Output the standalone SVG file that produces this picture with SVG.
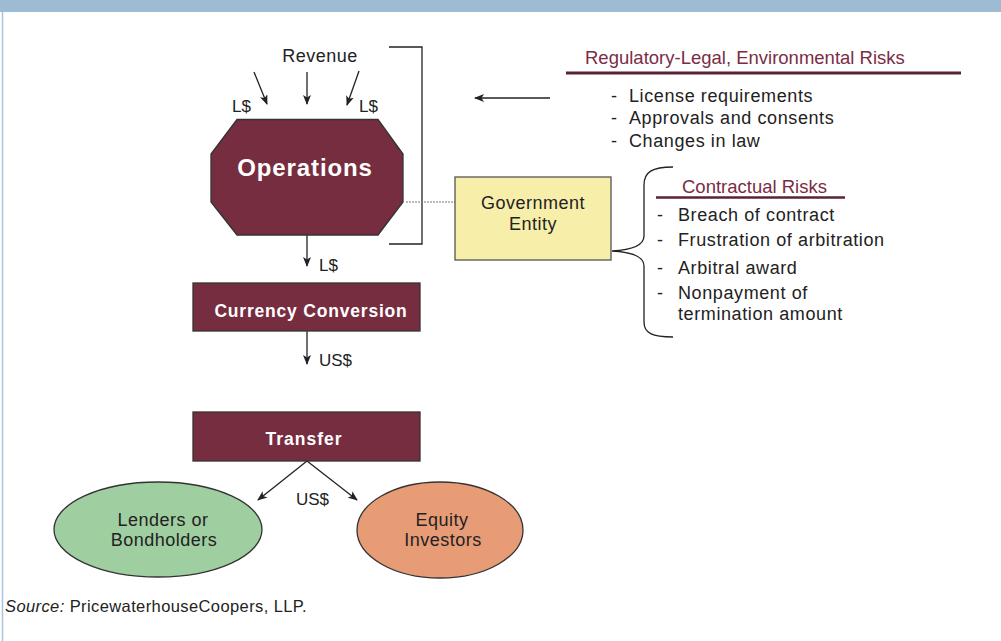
<svg xmlns="http://www.w3.org/2000/svg" width="1001" height="641" viewBox="0 0 1001 641">
<defs>
<marker id="ah" viewBox="0 0 10 8" refX="9" refY="4" markerWidth="10" markerHeight="8" markerUnits="userSpaceOnUse" orient="auto">
<path d="M0,0 L10,4 L0,8 L2.5,4 z" fill="#222"/>
</marker>
<style>
text{font-family:"Liberation Sans",Arial,sans-serif;fill:#222;}
.lbl{font-size:17px;}
.nm{font-size:18px;letter-spacing:0.5px;}
.item{font-size:18px;letter-spacing:0.6px;}
.head{font-size:18.5px;fill:#7a2d45;}
.wb{font-weight:bold;fill:#fff;}
.maroon{fill:#772d40;stroke:#333;stroke-width:1.3;}
.ln{stroke:#222;stroke-width:1.3;fill:none;}
.arr{stroke:#222;stroke-width:1.3;fill:none;marker-end:url(#ah);}
</style>
</defs>
<rect x="0" y="0" width="1001" height="12" fill="#9dbbd3"/>
<line x1="2.5" y1="12" x2="2.5" y2="641" stroke="#a9c5dd" stroke-width="1.5"/>

<g id="connectors">
<line class="arr" x1="254" y1="72" x2="267" y2="104"/>
<line class="arr" x1="307" y1="72" x2="307" y2="104"/>
<line class="arr" x1="359" y1="71" x2="347" y2="105"/>
<line class="arr" x1="550" y1="98" x2="475" y2="98"/>
<line class="arr" x1="307" y1="235" x2="307" y2="266"/>
<line class="arr" x1="307" y1="331" x2="307" y2="364"/>
<line class="arr" x1="307" y1="461" x2="258" y2="500"/>
<line class="arr" x1="307" y1="461" x2="357" y2="500"/>
<polyline class="ln" points="389,47 422,47 422,244 389,244" stroke="#444" stroke-width="1.5"/>
<line x1="406" y1="202" x2="455" y2="202" stroke="#777" stroke-width="1" stroke-dasharray="2,1"/>
<path class="ln" d="M673,167 C652,167 644,172 644,185 L644,236 C644,246 630,250 612,251 C630,252 644,256 644,266 L644,322 C644,333 652,337 673,337" stroke="#333"/>
</g>

<g id="revenue-labels">
<text class="nm" x="320" y="62" text-anchor="middle">Revenue</text>
<text class="lbl" x="232" y="112">L$</text>
<text class="lbl" x="359" y="112">L$</text>
<text class="lbl" x="319" y="271">L$</text>
<text class="lbl" x="319" y="366">US$</text>
<text class="lbl" x="296" y="505">US$</text>
</g>

<g id="operations">
<polygon class="maroon" points="237,119.5 378,119.5 403,154 403,202 378,235 237,235 211,202 211,154"/>
<text class="wb" x="305" y="176" text-anchor="middle" font-size="24" letter-spacing="0.9">Operations</text>
</g>

<g id="currency-conversion">
<rect class="maroon" x="193" y="283" width="227" height="48"/>
<text class="wb" x="311" y="317" text-anchor="middle" font-size="17.5" letter-spacing="0.8">Currency Conversion</text>
</g>

<g id="transfer">
<rect class="maroon" x="193" y="412" width="227" height="49"/>
<text class="wb" x="304" y="445" text-anchor="middle" font-size="17.5" letter-spacing="1">Transfer</text>
</g>

<g id="lenders">
<ellipse cx="158" cy="529.5" rx="104" ry="47.5" fill="#9fcea0" stroke="#333" stroke-width="1.3"/>
<text class="nm" x="163" y="526" text-anchor="middle">Lenders or</text>
<text class="nm" x="164" y="546" text-anchor="middle">Bondholders</text>
</g>

<g id="equity">
<ellipse cx="440" cy="530" rx="83" ry="48" fill="#e89c76" stroke="#333" stroke-width="1.3"/>
<text class="nm" x="442" y="526" text-anchor="middle">Equity</text>
<text class="nm" x="443" y="546" text-anchor="middle">Investors</text>
</g>

<g id="government-entity">
<rect x="455" y="177" width="156" height="83" fill="#f7eeaa" stroke="#555" stroke-width="1.3"/>
<text class="nm" x="533" y="209" text-anchor="middle">Government</text>
<text class="nm" x="533" y="230" text-anchor="middle">Entity</text>
</g>

<g id="regulatory-risks">
<text class="head" x="585" y="64">Regulatory-Legal, Environmental Risks</text>
<line x1="566" y1="73" x2="961" y2="73" stroke="#5a2333" stroke-width="3"/>
<text class="item" x="611" y="102">-</text><text class="item" x="629" y="102">License requirements</text>
<text class="item" x="611" y="124">-</text><text class="item" x="629" y="124">Approvals and consents</text>
<text class="item" x="611" y="147">-</text><text class="item" x="629" y="147">Changes in law</text>
</g>

<g id="contractual-risks">
<text class="head" x="682" y="193" font-size="17.5">Contractual Risks</text>
<line x1="656" y1="197.5" x2="845" y2="197.5" stroke="#5a2333" stroke-width="2.5"/>
<text class="item" x="657" y="221">-</text><text class="item" x="678" y="221">Breach of contract</text>
<text class="item" x="657" y="246">-</text><text class="item" x="678" y="246">Frustration of arbitration</text>
<text class="item" x="657" y="274">-</text><text class="item" x="678" y="274">Arbitral award</text>
<text class="item" x="657" y="299">-</text><text class="item" x="678" y="299">Nonpayment of</text>
<text class="item" x="678" y="320">termination amount</text>
</g>

<text x="5" y="612" font-size="16.5" letter-spacing="0.4"><tspan font-style="italic">Source:</tspan> PricewaterhouseCoopers, LLP.</text>
</svg>
